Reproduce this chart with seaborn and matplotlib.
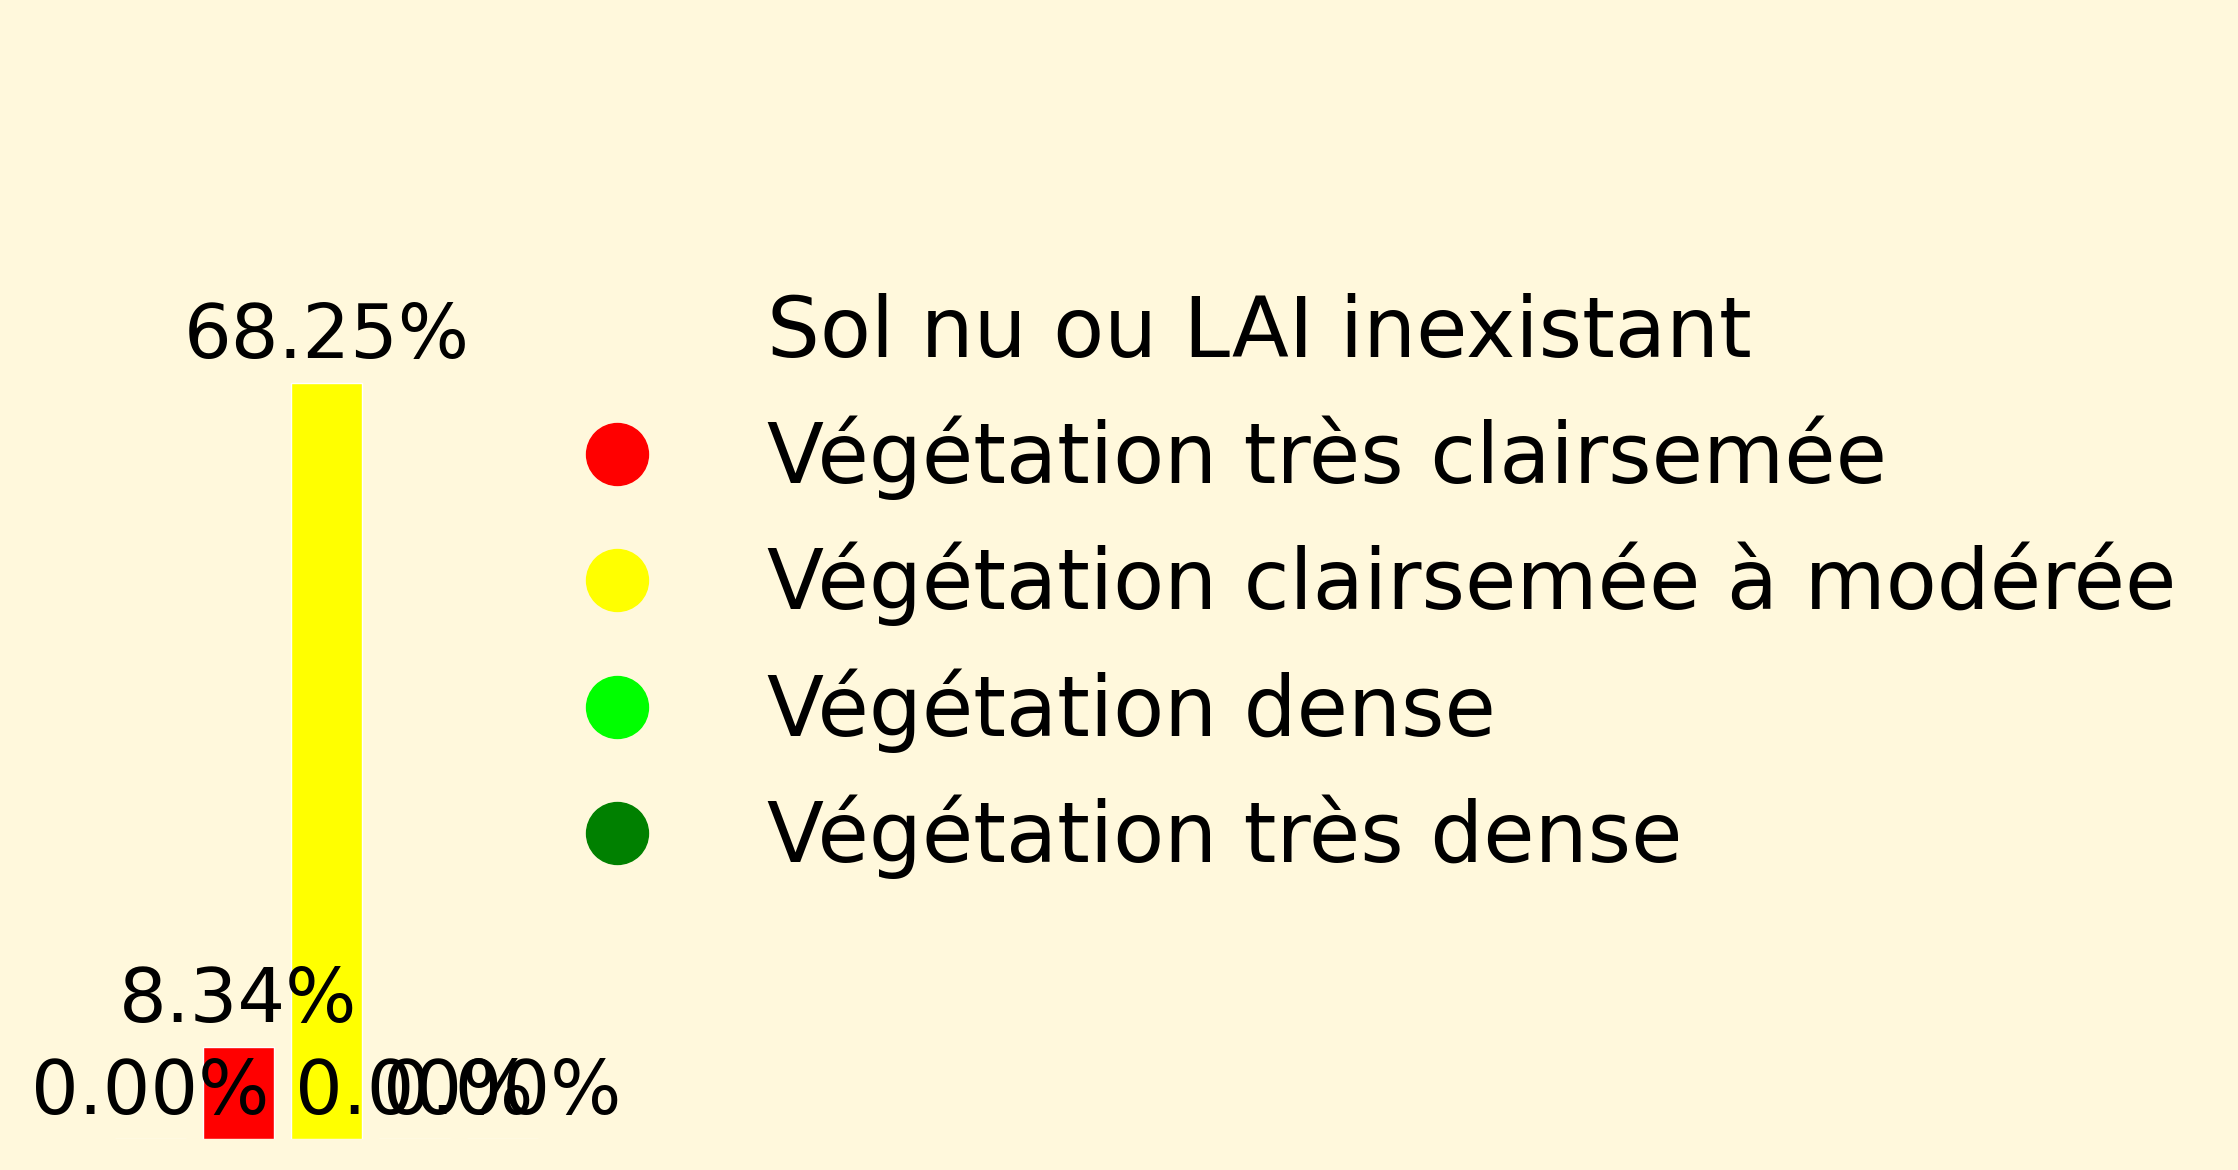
import matplotlib
matplotlib.use('Agg')
import matplotlib.pyplot as plt
from matplotlib.lines import Line2D
import seaborn as sns

# Données : répartition des classes de LAI (%)
classes = ['Sol nu ou LAI inexistant',
           'Végétation très clairsemée',
           'Végétation clairsemée à modérée',
           'Végétation dense',
           'Végétation très dense']
pourcentages = [0.00, 8.34, 68.25, 0.00, 0.00]
couleurs = ['cornsilk', '#ff0000', '#ffff00', '#00ff00', '#008000']

fond = 'cornsilk'

sns.set_style('white')
plt.rcParams['font.family'] = ['DejaVu Sans']
plt.rcParams['text.color'] = 'black'

fig = plt.figure(figsize=(22.38, 11.70), dpi=100, facecolor=fond)
ax = fig.add_axes([106.5 / 2238, 31 / 1170, 440 / 2238, 1108 / 1170])
ax.set_facecolor(fond)

sns.barplot(x=classes, y=pourcentages, hue=classes, palette=couleurs,
            legend=False, width=0.8, saturation=1, ax=ax)
ax.set_ylim(0, 100)
ax.set_xlim(-0.5, 4.5)
ax.axis('off')

# étiquettes des pourcentages au-dessus des barres
for i, v in enumerate(pourcentages):
    ax.annotate(f'{v:.2f}%', (i, v), xytext=(0, 6.5), textcoords='offset points',
                ha='center', va='bottom', fontsize=54, color='black',
                annotation_clip=False)

handles = [Line2D([0], [0], marker='o', linestyle='none', markersize=44.6,
                  markerfacecolor=c, markeredgecolor=c) for c in couleurs]
leg = fig.legend(handles, classes, loc='center left',
                 bbox_to_anchor=(534 / 2238, (1170 - 586) / 1170),
                 frameon=False, fontsize=60, borderpad=0, borderaxespad=0,
                 handlelength=2.0, handletextpad=0.8, labelspacing=0.5)
for t in leg.get_texts():
    t.set_color('black')

fig.savefig('out.png', dpi=100, facecolor=fond)
